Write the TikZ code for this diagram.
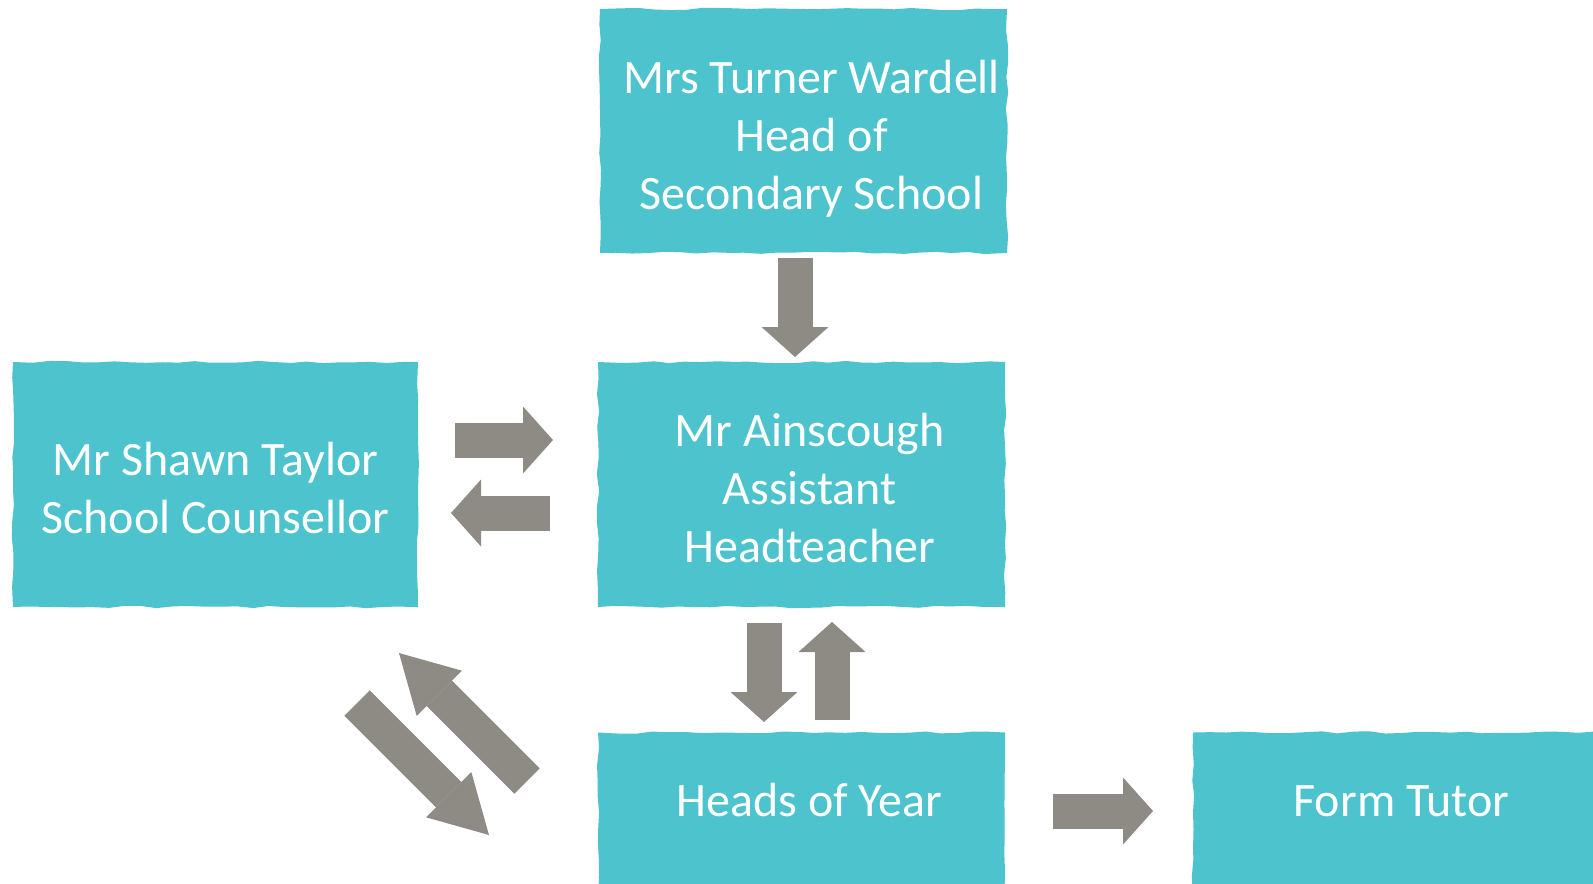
\documentclass[tikz,border=0pt]{standalone}
\usepackage{fontspec}
\setmainfont{Carlito}
\usetikzlibrary{arrows.meta,decorations.pathmorphing}

\definecolor{boxteal}{RGB}{76,195,205}
\definecolor{arrowgray}{RGB}{142,139,133}

% fixed top and bottom of the text block in the tall boxes
\newcommand{\topstrut}{\rule{0pt}{25pt}}
\newcommand{\botstrut}{\rule[-5pt]{0pt}{5pt}}
% text in the middle column sits a little right of centre
\newcommand{\nudge}{\hspace*{8pt}}

\tikzset{
  box/.style={fill=boxteal, text=white, align=center, inner sep=0pt,
    minimum width=203.5pt, minimum height=122pt,
    font=\fontsize{24pt}{29pt}\selectfont,
    decorate, decoration={random steps, segment length=8pt, amplitude=0.6pt}},
  lowbox/.style={box, minimum height=84pt, text height=12pt, text depth=12pt},
  blockarrow/.style={draw, color=arrowgray, line width=17.5pt,
    -{Triangle[width=33.5pt, length=15pt, line width=0pt]}},
  diagarrow/.style={draw, color=arrowgray, line width=18pt,
    -{Triangle[width=32pt, length=28.5pt, line width=0pt]}},
}
\pgfmathsetseed{7}

\begin{document}
\begin{tikzpicture}[x=0.5pt, y=-0.5pt]
        \clip (0,0) rectangle (1593,883);

        \node[box] at (803.5,131)(hos){\topstrut\nudge Mrs Turner Wardell\\\nudge Head of\\\nudge Secondary School\botstrut};
        \node[box, minimum height=122.5pt] at (801.5,484.5)(aht){\topstrut\nudge Mr Ainscough\\\nudge Assistant\\\nudge Headteacher\botstrut};
        \node[box, minimum width=202.5pt, minimum height=122.5pt] at (215.5,484.5)(sc){\topstrut Mr Shawn Taylor\\School Counsellor\botstrut};
        \node[lowbox] at (801.5,816.5)(hoy){\nudge Heads of Year};
        \node[lowbox, minimum width=208.5pt] at (1401.5,816.5)(ft){Form Tutor};

        % arrow ends
        \coordinate (t1) at (795,258);  \coordinate (h1) at (795,357);
        \coordinate (t2) at (455,440);  \coordinate (h2) at (553,440);
        \coordinate (t3) at (550,513);  \coordinate (h3) at (451,513);
        \coordinate (t4) at (764,623);  \coordinate (h4) at (764,722);
        \coordinate (t5) at (832,720);  \coordinate (h5) at (832,622);
        \coordinate (t6) at (1053,811); \coordinate (h6) at (1153,811);
        \coordinate (t7) at (527,781);  \coordinate (h7) at (399,653);
        \coordinate (t8) at (357,703);  \coordinate (h8) at (489,835);

        \path
        (t1)edge[blockarrow](h1)
        (t2)edge[blockarrow](h2)
        (t3)edge[blockarrow](h3)
        (t4)edge[blockarrow](h4)
        (t5)edge[blockarrow](h5)
        (t6)edge[blockarrow](h6)
        (t7)edge[diagarrow](h7)
        (t8)edge[diagarrow](h8)
        ;
    \end{tikzpicture}
\end{document}
